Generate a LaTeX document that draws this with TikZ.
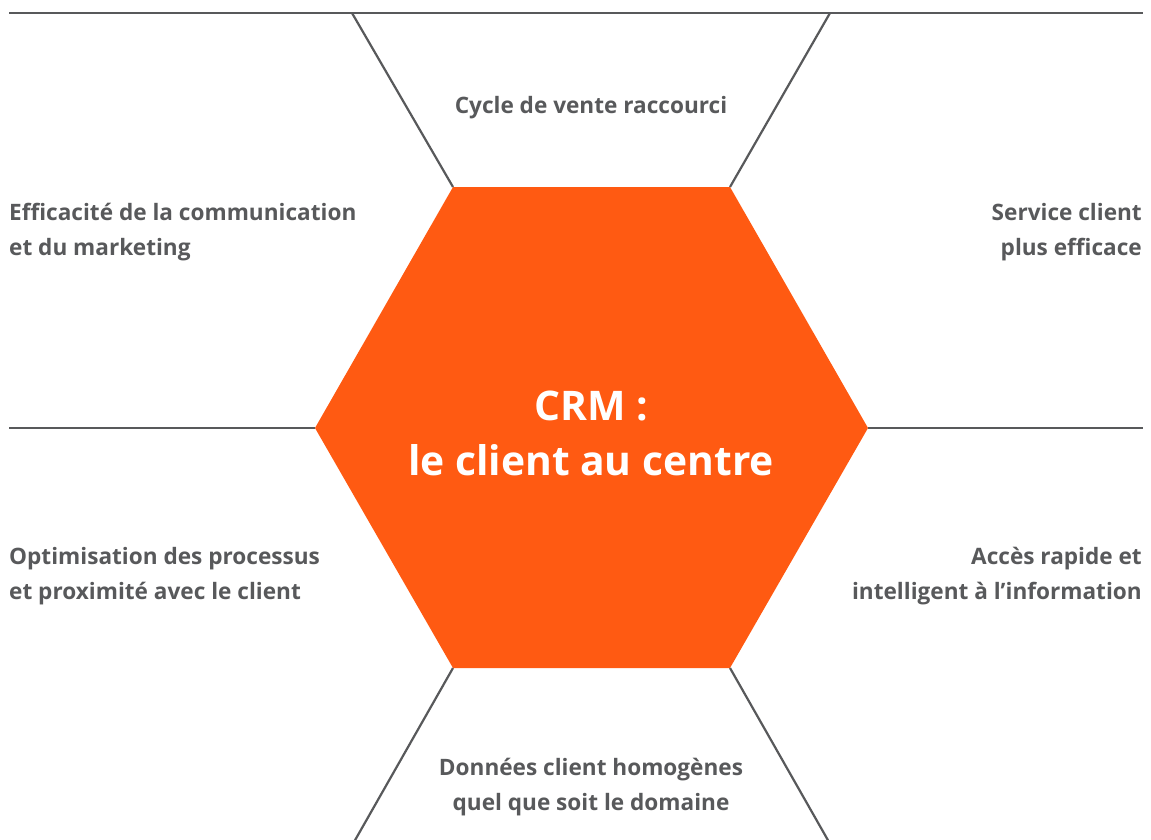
\documentclass[tikz,border=0pt]{standalone}
\usepackage{fontspec}
\setmainfont{Open Sans}
\definecolor{hexorange}{HTML}{FF5A12}
\definecolor{txtgray}{HTML}{58595B}
\definecolor{linegray}{HTML}{58595B}
\begin{document}
\begin{tikzpicture}[x=1pt,y=-1pt,
  lbl/.style={inner sep=0pt, text=txtgray, font=\fontsize{22.6}{35}\selectfont\bfseries},
  guide/.style={draw=linegray, line width=2.2pt},
  hexfill/.style={fill=hexorange, draw=none}]
\useasboundingbox (0,0) rectangle (1151,839);
% hexagon corners
\coordinate (tl) at (453,187);
\coordinate (tr) at (730,187);
\coordinate (r) at (868,428);
\coordinate (br) at (730,668);
\coordinate (bl) at (453,668);
\coordinate (l) at (315,428);
% guide line ends
\coordinate (t1) at (9,13);
\coordinate (t2) at (352,13);
\coordinate (t3) at (830,13);
\coordinate (t4) at (1143,13);
\coordinate (ml) at (9,428);
\coordinate (mr) at (1143,428);
\coordinate (b1) at (354,842);
\coordinate (b2) at (829,842);
\draw[guide] (t1) -- (t4);
\draw[guide] (t2) -- (tl);
\draw[guide] (t3) -- (tr);
\draw[guide] (ml) -- (l);
\draw[guide] (r) -- (mr);
\draw[guide] (bl) -- (b1);
\draw[guide] (br) -- (b2);
\path[hexfill] (tl) -- (tr) -- (r) -- (br) -- (bl) -- (l) -- cycle;
\node[inner sep=0pt, text=white, align=center, font=\fontsize{40.8}{55}\selectfont\bfseries] (center) at (591,433) {CRM :\\le client au centre};
\node[lbl] (top) at (591,108) {Cycle de vente raccourci};
\node[lbl, anchor=west, align=left] (tlt) at (9,232) {Efficacité de la communication\\et du marketing};
\node[lbl, anchor=east, align=right] (trt) at (1142,232) {Service client\\plus efficace};
\node[lbl, anchor=west, align=left] (blt) at (9,576) {Optimisation des processus\\et proximité avec le client};
\node[lbl, anchor=east, align=right] (brt) at (1142,576) {Accès rapide et\\intelligent à l’information};
\node[lbl, align=center] (bot) at (591,787) {Données client homogènes\\quel que soit le domaine};
\end{tikzpicture}
\end{document}
